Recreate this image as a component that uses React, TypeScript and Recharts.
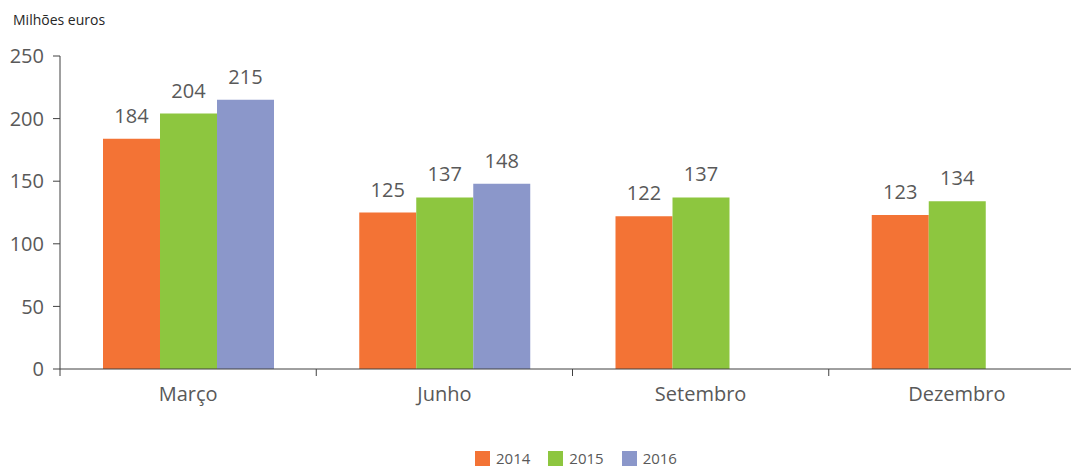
import React from 'react';
import { BarChart, Bar, XAxis, YAxis, LabelList, Legend } from 'recharts';

const months = ['Março', 'Junho', 'Setembro', 'Dezembro'];
const values2014 = [184, 125, 122, 123];
const values2015 = [204, 137, 137, 134];
const values2016: Array<number | null> = [215, 148, null, null];
const yTicks = [0, 50, 100, 150, 200, 250];

const series = [
  { key: 'y2014', name: '2014', color: '#F37335' },
  { key: 'y2015', name: '2015', color: '#8DC63F' },
  { key: 'y2016', name: '2016', color: '#8B97CA' },
];

const data = months.map((m, i) => ({
  month: m,
  y2014: values2014[i],
  y2015: values2015[i],
  y2016: values2016[i],
}));

const FONT = '"Open Sans", sans-serif';
const TEXT = '#595959';
const AXIS = '#404040';

const CHART_W = 1077;
const Y_W = 52;
const BAND = (CHART_W - Y_W) / months.length;

const MonthTick = (props: any) => {
  const { x, y, payload } = props;
  return (
    <g>
      <line x1={x - BAND / 2} x2={x - BAND / 2} y1={y - 7} y2={y} stroke={AXIS} strokeWidth={1} />
      <text x={x} y={y + 25} textAnchor="middle" fill={TEXT} fontSize={20} fontFamily={FONT}>
        {payload.value}
      </text>
    </g>
  );
};

const renderLegend = () => (
  <div style={{ display: 'flex', justifyContent: 'flex-start', paddingLeft: 467, fontFamily: FONT, fontSize: 15, color: TEXT }}>
    {series.map((s) => (
      <div key={s.key} style={{ display: 'flex', alignItems: 'center', marginRight: 18 }}>
        <span style={{ width: 15, height: 15, background: s.color, display: 'inline-block', marginRight: 6 }} />
        <span>{s.name}</span>
      </div>
    ))}
  </div>
);

export default function App() {
  return (
    <div style={{ position: 'relative', width: 1071, height: 460, overflow: 'hidden' }}>
      <div style={{ position: 'absolute', left: 5, top: 2, fontFamily: FONT, fontSize: 14, color: '#262626' }}>
        Milhões euros
      </div>
      <BarChart
        width={CHART_W}
        height={460}
        data={data}
        margin={{ top: 48, right: 0, bottom: 39, left: 0 }}
        barGap={0}
        barSize={57}
      >
        <YAxis
          width={Y_W}
          domain={[0, 250]}
          ticks={yTicks}
          interval={0}
          axisLine={{ stroke: AXIS }}
          tickLine={{ stroke: AXIS }}
          tickSize={7}
          tickMargin={9}
          tick={{ fill: TEXT, fontSize: 20, fontFamily: FONT }}
        />
        <XAxis
          dataKey="month"
          height={40}
          axisLine={{ stroke: AXIS }}
          tickLine={false}
          tickSize={7}
          tickMargin={0}
          interval={0}
          tick={<MonthTick />}
        />
        <Legend
          verticalAlign="bottom"
          content={renderLegend}
          wrapperStyle={{ left: 0, width: CHART_W, bottom: 0 }}
        />
        {series.map((s) => (
          <Bar key={s.key} dataKey={s.key} name={s.name} fill={s.color} isAnimationActive={false}>
            <LabelList dataKey={s.key} position="top" offset={16} fill={TEXT} fontSize={20} fontFamily={FONT} />
          </Bar>
        ))}
      </BarChart>
    </div>
  );
}
